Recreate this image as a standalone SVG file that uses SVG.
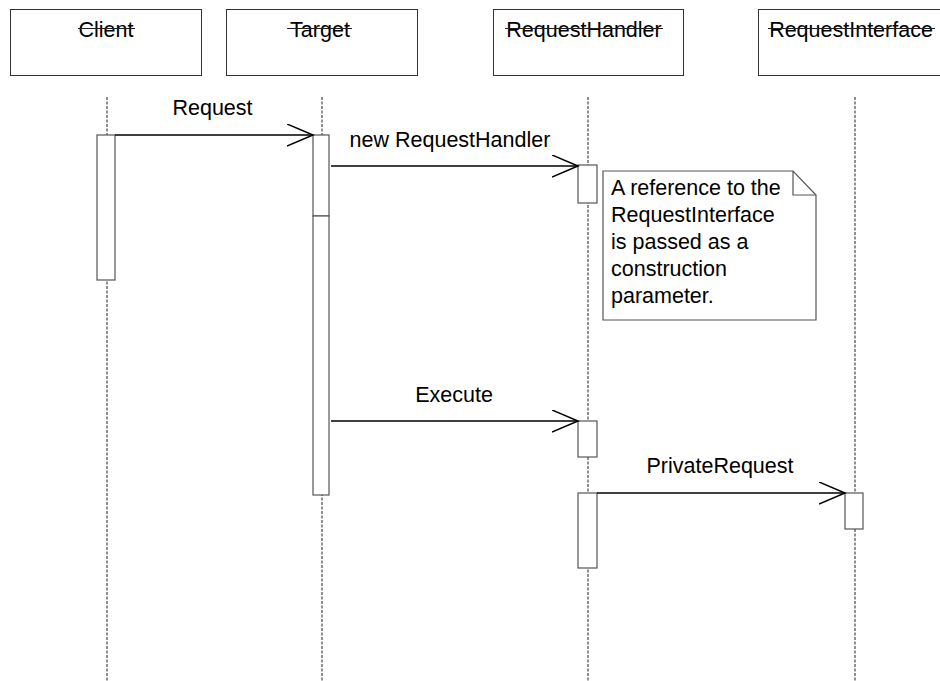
<svg xmlns="http://www.w3.org/2000/svg" width="940" height="681" viewBox="0 0 940 681">
<defs>
<style>
text{font-family:"Liberation Sans",Arial,sans-serif;font-size:21.5px;fill:#000}
.hdr{fill:#fff;stroke:#333;stroke-width:1}
.strike{stroke:#222;stroke-width:1.2}
.life{stroke:#222;stroke-width:1;stroke-dasharray:3,1.5}
.act{fill:#fff;stroke:#555;stroke-width:1.2}
.msg{stroke:#000;stroke-width:1.5;fill:none}
.note{fill:#fff;stroke:#555;stroke-width:1.2}
</style>
<marker id="open" markerWidth="30" markerHeight="26" refX="26" refY="11" orient="auto" markerUnits="userSpaceOnUse">
<path d="M0,0 L26,11 L0,22" fill="none" stroke="#000" stroke-width="1.5"/>
</marker>
</defs>
<rect width="940" height="681" fill="#fff"/>

<g id="lifelines">
<line class="life" x1="107" y1="97" x2="107" y2="681"/>
<line class="life" x1="322" y1="97" x2="322" y2="681"/>
<line class="life" x1="588" y1="97" x2="588" y2="681"/>
<line class="life" x1="855" y1="97" x2="855" y2="681"/>
</g>

<g id="client">
<rect class="hdr" x="10.5" y="9.5" width="191" height="66"/>
<text x="106" y="37" text-anchor="middle">Client</text>
<line class="strike" x1="78" y1="28.5" x2="135" y2="28.5"/>
<rect class="act" x="97" y="135" width="18" height="145"/>
</g>

<g id="target">
<rect class="hdr" x="226.5" y="9.5" width="191" height="66"/>
<text x="320" y="37" text-anchor="middle">Target</text>
<line class="strike" x1="287" y1="28.5" x2="352" y2="28.5"/>
<rect class="act" x="313" y="135" width="16" height="81"/>
<rect class="act" x="313" y="216" width="16" height="279"/>
</g>

<g id="requesthandler">
<rect class="hdr" x="493.5" y="9.5" width="190" height="66"/>
<text x="584" y="37" text-anchor="middle">RequestHandler</text>
<line class="strike" x1="505" y1="28.5" x2="663" y2="28.5"/>
<rect class="act" x="578" y="165" width="19" height="38"/>
<rect class="act" x="578" y="421" width="19" height="36"/>
<rect class="act" x="578" y="493" width="19" height="75"/>
</g>

<g id="requestinterface">
<rect class="hdr" x="758.5" y="9.5" width="190" height="66"/>
<text x="851" y="37" text-anchor="middle">RequestInterface</text>
<line class="strike" x1="768" y1="28.5" x2="935" y2="28.5"/>
<rect class="act" x="845" y="493" width="18" height="36"/>
</g>

<g id="note">
<path class="note" d="M603,171 L793,171 L816,195 L816,320 L603,320 Z"/>
<path d="M793,171 L793,195 L816,195" fill="none" stroke="#555" stroke-width="1.2"/>
<text x="611" y="195">A reference to the</text>
<text x="611" y="222">RequestInterface</text>
<text x="611" y="249">is passed as a</text>
<text x="611" y="276">construction</text>
<text x="611" y="303">parameter.</text>
</g>

<g id="connectors">
<line class="msg" x1="115" y1="135" x2="313" y2="135" marker-end="url(#open)"/>
<text x="212.5" y="115" text-anchor="middle">Request</text>
<line class="msg" x1="331" y1="166" x2="578" y2="166" marker-end="url(#open)"/>
<text x="450" y="147" text-anchor="middle">new RequestHandler</text>
<line class="msg" x1="331" y1="421" x2="578" y2="421" marker-end="url(#open)"/>
<text x="454" y="402" text-anchor="middle">Execute</text>
<line class="msg" x1="597" y1="493" x2="845" y2="493" marker-end="url(#open)"/>
<text x="720" y="473" text-anchor="middle">PrivateRequest</text>
</g>
</svg>
